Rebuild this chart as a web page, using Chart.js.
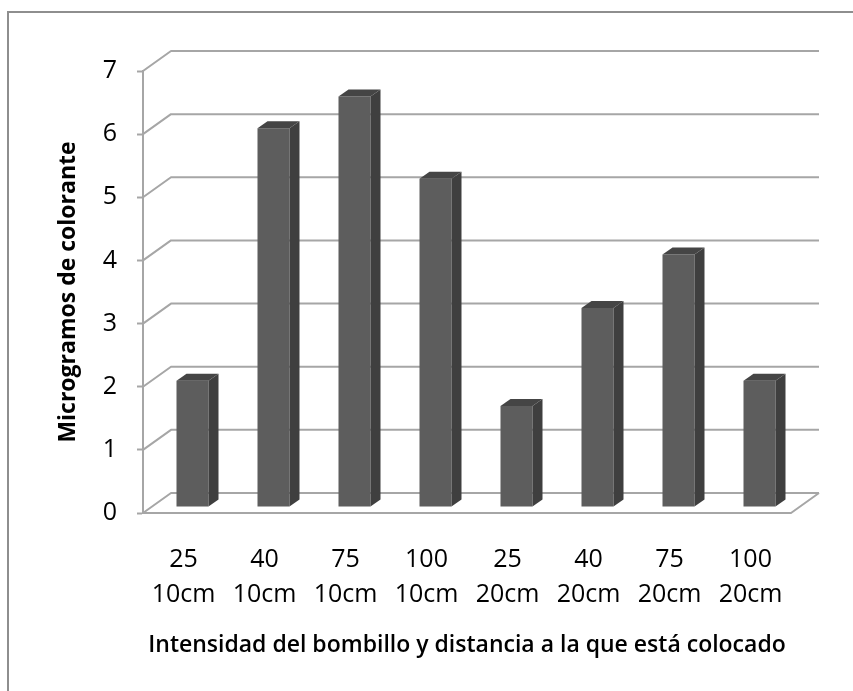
<!DOCTYPE html>
<html>
<head>
<meta charset="utf-8">
<script src="https://cdn.jsdelivr.net/npm/chart.js@4.4.1/dist/chart.umd.min.js"></script>
<style>
  html, body { margin: 0; padding: 0; background: #ffffff; }
  #wrap { width: 853px; height: 691px; }
</style>
</head>
<body>
<div id="wrap"><canvas id="c" width="853" height="691"></canvas></div>
<script>
// ---- data ----
const intensities = ["25", "40", "75", "100", "25", "40", "75", "100"];
const distances = ["10cm", "10cm", "10cm", "10cm", "20cm", "20cm", "20cm", "20cm"];
const values = [2, 6, 6.5, 5.2, 1.6, 3.15, 4, 2];
const yTicks = [0, 1, 2, 3, 4, 5, 6, 7];
const xTitle = "Intensidad del bombillo y distancia a la que está colocado";
const yTitle = "Microgramos de colorante";

const labels = intensities.map((v, i) => [v, distances[i]]);

// ---- 3D look ----
const WALL = { dx: 28, dy: -20 };   // full depth of the plot
const BARPOS = { dx: 9, dy: -6 };   // bar front face depth
const BARD = { dx: 10, dy: -7 };    // bar thickness
const GRID = '#a6a6a6';
const FONT = "'Open Sans', 'Noto Sans', sans-serif";

const threeD = {
  id: 'threeD',
  beforeDraw(chart) {
    const ctx = chart.ctx;
    ctx.save();
    ctx.strokeStyle = '#8e8e8e';
    ctx.lineWidth = 2;
    ctx.strokeRect(8, 12, 1000, 1000);
    ctx.restore();
  },
  beforeDatasetsDraw(chart) {
    const { ctx, chartArea: ca, scales } = chart;
    const y = scales.y;
    ctx.save();
    ctx.strokeStyle = GRID;
    ctx.lineWidth = 2;
    ctx.lineJoin = 'round';
    yTicks.forEach(v => {
      const py = y.getPixelForValue(v);
      ctx.beginPath();
      ctx.moveTo(ca.left, py);
      ctx.lineTo(ca.left + WALL.dx, py + WALL.dy);
      ctx.lineTo(ca.right + WALL.dx, py + WALL.dy);
      ctx.stroke();
    });
    // floor
    const p0 = y.getPixelForValue(0);
    ctx.beginPath();
    ctx.moveTo(ca.left, p0);
    ctx.lineTo(ca.right, p0);
    ctx.lineTo(ca.right + WALL.dx, p0 + WALL.dy);
    ctx.stroke();
    ctx.restore();
    // shift the bar front faces into depth
    ctx.save();
    ctx.translate(BARPOS.dx, BARPOS.dy);
  },
  afterDatasetsDraw(chart) {
    const ctx = chart.ctx;
    ctx.restore();
    const meta = chart.getDatasetMeta(0);
    ctx.save();
    meta.data.forEach(bar => {
      const p = bar.getProps(['x', 'y', 'base', 'width'], true);
      const l = p.x - p.width / 2 + BARPOS.dx;
      const r = p.x + p.width / 2 + BARPOS.dx;
      const t = p.y + BARPOS.dy;
      const b = p.base + BARPOS.dy;
      // side
      ctx.fillStyle = '#3f3f3f';
      ctx.beginPath();
      ctx.moveTo(r, t);
      ctx.lineTo(r + BARD.dx, t + BARD.dy);
      ctx.lineTo(r + BARD.dx, b + BARD.dy);
      ctx.lineTo(r, b);
      ctx.closePath();
      ctx.fill();
      // top
      ctx.fillStyle = '#454545';
      ctx.beginPath();
      ctx.moveTo(l, t);
      ctx.lineTo(l + BARD.dx, t + BARD.dy);
      ctx.lineTo(r + BARD.dx, t + BARD.dy);
      ctx.lineTo(r, t);
      ctx.closePath();
      ctx.fill();
    });
    ctx.restore();
  }
};

new Chart(document.getElementById('c'), {
  type: 'bar',
  data: {
    labels: labels,
    datasets: [{
      data: values,
      backgroundColor: '#5d5d5d',
      borderWidth: 0,
      barPercentage: 0.395,
      categoryPercentage: 1.0,
      clip: false
    }]
  },
  options: {
    responsive: false,
    animation: false,
    events: [],
    layout: { padding: { left: 0, right: 62, top: 71, bottom: 0 } },
    plugins: { legend: { display: false }, tooltip: { enabled: false } },
    scales: {
      x: {
        grid: { display: false, drawTicks: false },
        border: { display: false },
        ticks: {
          color: '#000', padding: 30,
          font: { family: FONT, size: 25, lineHeight: 1.38 },
          maxRotation: 0, autoSkip: false
        },
        title: {
          display: true, text: xTitle, color: '#000',
          font: { family: FONT, size: 23, weight: '600', lineHeight: 1.2 },
          padding: 32
        },
        afterFit(scale) { scale.height = 691 - 513; }
      },
      y: {
        min: 0, max: 7,
        grid: { drawOnChartArea: false, drawTicks: true, tickLength: 6, tickColor: GRID, tickWidth: 2 },
        border: { display: true, color: GRID, width: 2 },
        ticks: {
          stepSize: 1, color: '#000', padding: 20,
          font: { family: FONT, size: 25 }
        },
        title: {
          display: true, text: yTitle, color: '#000',
          font: { family: FONT, size: 23, weight: '700', lineHeight: 1.2 },
          padding: { top: 55, bottom: 0 }
        },
        afterFit(scale) { scale.width = 143; }
      }
    }
  },
  plugins: [threeD]
});
</script>
</body>
</html>
